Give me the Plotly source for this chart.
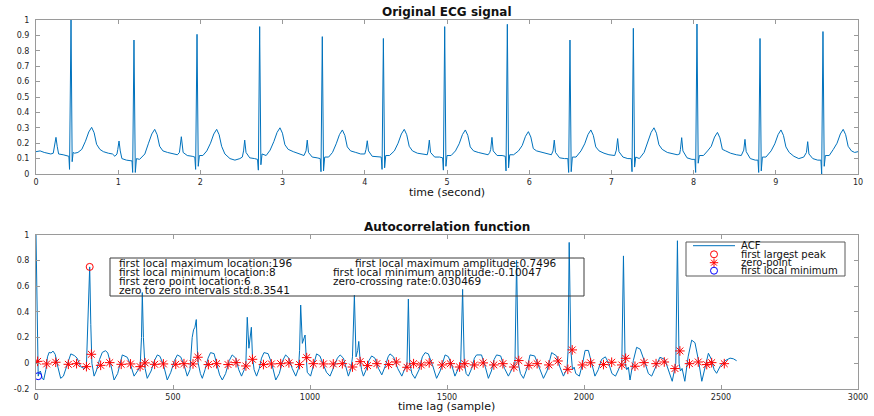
import plotly.graph_objects as go

W, H = 874, 416

# ---------------- data: original ECG (time in s, amplitude), one row per beat ----------------
ecg_t = [
    0.00, 0.05, 0.10, 0.15, 0.18,
    0.21, 0.228, 0.243, 0.258, 0.275, 0.33, 0.38, 0.400, 0.408, 0.426, 0.440, 0.452, 0.47, 0.51, 0.557, 0.602, 0.642, 0.677, 0.707, 0.737, 0.777, 0.82, 0.88, 0.93, 0.96, 0.985,
    0.995, 1.01, 1.025, 1.045, 1.10, 1.15, 1.168, 1.176, 1.192, 1.208, 1.222, 1.26, 1.29, 1.324, 1.369, 1.409, 1.444, 1.474, 1.504, 1.544, 1.60, 1.66, 1.72,
    1.745, 1.768, 1.79, 1.84, 1.90, 1.932, 1.942, 1.959, 1.974, 1.988, 2.03, 2.078, 2.123, 2.163, 2.198, 2.228, 2.258, 2.298, 2.36, 2.42, 2.48, 2.51,
    2.525, 2.539, 2.555, 2.60, 2.66, 2.695, 2.705, 2.721, 2.736, 2.75, 2.80, 2.848, 2.893, 2.933, 2.968, 2.998, 3.028, 3.068, 3.13, 3.20, 3.26,
    3.285, 3.30, 3.315, 3.36, 3.42, 3.458, 3.467, 3.483, 3.498, 3.512, 3.56, 3.607, 3.652, 3.692, 3.727, 3.757, 3.787, 3.827, 3.89, 3.95, 4.00,
    4.015, 4.03, 4.045, 4.09, 4.15, 4.20, 4.21, 4.226, 4.241, 4.255, 4.30, 4.36, 4.405, 4.445, 4.48, 4.51, 4.54, 4.58, 4.64, 4.70, 4.76,
    4.77, 4.785, 4.80, 4.85, 4.91, 4.947, 4.956, 4.972, 4.987, 5.00, 5.05, 5.103, 5.148, 5.188, 5.223, 5.253, 5.283, 5.323, 5.38, 5.44, 5.50, 5.52,
    5.532, 5.547, 5.562, 5.61, 5.67, 5.709, 5.718, 5.734, 5.749, 5.763, 5.81, 5.87, 5.915, 5.955, 5.99, 6.02, 6.05, 6.09, 6.15, 6.21, 6.27,
    6.29, 6.305, 6.32, 6.37, 6.43, 6.47, 6.48, 6.496, 6.511, 6.525, 6.57, 6.63, 6.675, 6.715, 6.75, 6.78, 6.81, 6.85, 6.91, 6.97, 7.04,
    7.06, 7.076, 7.092, 7.14, 7.20, 7.242, 7.251, 7.267, 7.282, 7.296, 7.34, 7.398, 7.443, 7.483, 7.518, 7.548, 7.578, 7.618, 7.68, 7.74, 7.80, 7.83,
    7.84, 7.855, 7.87, 7.92, 7.98, 8.016, 8.025, 8.041, 8.056, 8.07, 8.12, 8.17, 8.215, 8.255, 8.29, 8.32, 8.35, 8.39, 8.45, 8.52, 8.58,
    8.61, 8.625, 8.64, 8.69, 8.75, 8.783, 8.792, 8.808, 8.823, 8.837, 8.88, 8.943, 8.988, 9.028, 9.063, 9.093, 9.123, 9.163, 9.22, 9.28, 9.34,
    9.373, 9.388, 9.403, 9.45, 9.51, 9.549, 9.558, 9.574, 9.589, 9.603, 9.65, 9.70, 9.745, 9.785, 9.82, 9.85, 9.88, 9.92, 9.96, 10.0,
]
ecg_v = [
    0.145, 0.15, 0.14, 0.135, 0.13,
    0.135, 0.18, 0.238, 0.18, 0.13, 0.125, 0.12, 0.115, 0.03, 1.0, 0.08, 0.14, 0.135, 0.14, 0.16, 0.213, 0.273, 0.303, 0.268, 0.193, 0.16, 0.145, 0.135, 0.13, 0.115, 0.13,
    0.16, 0.214, 0.15, 0.10, 0.09, 0.088, 0.085, 0.01, 0.87, 0.01, 0.10, 0.095, 0.11, 0.13, 0.20, 0.26, 0.29, 0.255, 0.18, 0.15, 0.14, 0.13, 0.125,
    0.14, 0.242, 0.14, 0.12, 0.115, 0.11, 0.03, 0.907, 0.05, 0.12, 0.12, 0.15, 0.20, 0.26, 0.29, 0.255, 0.18, 0.13, 0.10, 0.09, 0.10, 0.11,
    0.15, 0.22, 0.14, 0.105, 0.10, 0.095, 0.025, 0.957, 0.06, 0.13, 0.12, 0.155, 0.21, 0.27, 0.30, 0.265, 0.19, 0.16, 0.145, 0.13, 0.12,
    0.15, 0.22, 0.14, 0.11, 0.105, 0.10, 0.015, 0.892, 0.02, 0.11, 0.11, 0.14, 0.196, 0.256, 0.286, 0.251, 0.176, 0.15, 0.14, 0.13, 0.13,
    0.16, 0.216, 0.15, 0.115, 0.113, 0.11, 0.03, 0.88, 0.04, 0.12, 0.12, 0.15, 0.20, 0.26, 0.29, 0.255, 0.18, 0.15, 0.135, 0.13, 0.125,
    0.15, 0.22, 0.14, 0.11, 0.11, 0.105, 0.025, 0.957, 0.05, 0.12, 0.12, 0.15, 0.196, 0.256, 0.286, 0.251, 0.176, 0.15, 0.14, 0.13, 0.125, 0.14,
    0.16, 0.238, 0.15, 0.12, 0.12, 0.115, 0.02, 0.972, 0.04, 0.125, 0.125, 0.15, 0.185, 0.245, 0.275, 0.24, 0.165, 0.15, 0.14, 0.13, 0.125,
    0.15, 0.22, 0.14, 0.105, 0.10, 0.10, 0.01, 0.87, 0.015, 0.11, 0.11, 0.15, 0.196, 0.256, 0.286, 0.251, 0.176, 0.15, 0.135, 0.125, 0.12,
    0.155, 0.23, 0.145, 0.11, 0.10, 0.10, 0.015, 0.946, 0.045, 0.11, 0.10, 0.14, 0.21, 0.27, 0.30, 0.265, 0.19, 0.16, 0.14, 0.13, 0.125, 0.13,
    0.16, 0.236, 0.15, 0.105, 0.095, 0.095, 0.01, 0.974, 0.07, 0.12, 0.12, 0.15, 0.18, 0.24, 0.27, 0.235, 0.16, 0.15, 0.135, 0.125, 0.12,
    0.155, 0.225, 0.145, 0.10, 0.09, 0.09, 0.01, 0.88, 0.02, 0.11, 0.11, 0.15, 0.196, 0.256, 0.286, 0.251, 0.176, 0.14, 0.115, 0.10, 0.11,
    0.14, 0.21, 0.13, 0.10, 0.09, 0.09, 0.0, 0.925, 0.05, 0.12, 0.12, 0.16, 0.20, 0.26, 0.29, 0.255, 0.18, 0.15, 0.14, 0.145,
]
assert len(ecg_t) == len(ecg_v)

# ---------------- data: autocorrelation function (lag in samples) ----------------
acf_lag = [
    0, 3, 6, 8, 12, 16, 22, 28, 36, 42, 48, 55, 62, 70, 80, 90, 100, 115, 127, 140, 150, 163, 175, 184, 190, 196, 200, 204, 212, 220,
    232, 242, 254, 262, 272, 285, 298, 308, 315, 333, 345, 358, 372, 380, 385, 388, 392, 398, 406, 420, 432, 443, 452, 465, 479, 492,
    505, 516, 528, 540, 552, 562, 570, 575, 580, 585, 589, 592, 600, 607, 617, 628, 637, 650, 659, 670, 680, 692, 705, 716, 729, 740,
    750, 760, 766, 771, 777, 782, 786, 790, 796, 805, 815, 823, 832, 847, 860, 875, 888, 900, 911, 923, 935, 948, 958, 962, 966, 972,
    978, 982, 986, 990, 1002, 1012, 1024, 1036, 1048, 1060, 1073, 1088, 1100, 1110, 1122, 1130, 1140, 1150, 1155, 1162, 1168, 1174,
    1178, 1182, 1188, 1195, 1205, 1215, 1225, 1237, 1250, 1262, 1275, 1285, 1292, 1305, 1320, 1335, 1348, 1354, 1359, 1364, 1372,
    1383, 1398, 1410, 1420, 1432, 1448, 1462, 1475, 1486, 1493, 1505, 1518, 1529, 1540, 1550, 1557, 1563, 1570, 1578, 1590, 1600,
    1608, 1626, 1640, 1651, 1662, 1672, 1681, 1696, 1710, 1724, 1736, 1748, 1754, 1760, 1768, 1779, 1792, 1803, 1820, 1835, 1852,
    1865, 1875, 1882, 1900, 1912, 1925, 1938, 1942, 1946, 1952, 1958, 1964, 1970, 1983, 1995, 2004, 2016, 2028, 2040, 2052, 2064,
    2078, 2090, 2102, 2115, 2128, 2138, 2144, 2150, 2156, 2162, 2168, 2180, 2192, 2205, 2220, 2235, 2247, 2262, 2277, 2295, 2308,
    2322, 2335, 2341, 2347, 2352, 2358, 2368, 2380, 2393, 2405, 2418, 2430, 2442, 2454, 2465, 2475, 2484, 2498, 2515, 2533, 2545, 2557,
]
acf_val = [
    1.0, 0.5, 0.0, -0.10, -0.07, -0.06, -0.11, -0.13, -0.05, 0.05, 0.085, 0.08, 0.095, 0.07, -0.03, -0.117, -0.10, 0.0, 0.073, 0.06, 0.04, -0.026, -0.04, -0.02, 0.30, 0.7496, 0.30, 0.0, -0.10, -0.06,
    0.03, 0.085, 0.098, 0.08, 0.0, -0.13, -0.08, 0.02, 0.065, 0.047, -0.01, -0.10, -0.06, -0.03, 0.20, 0.55, 0.20, -0.04, -0.117, -0.06, 0.02, 0.065, 0.055, -0.01, -0.13, -0.07,
    0.02, 0.065, 0.05, -0.01, -0.10, -0.05, 0.20, 0.26, 0.28, 0.34, 0.10, 0.0, -0.08, -0.117, -0.05, 0.04, 0.083, 0.075, 0.0, -0.09, -0.13, -0.08, 0.02, 0.065, 0.04, -0.05,
    -0.10, -0.05, 0.0, 0.358, 0.117, 0.20, 0.28, 0.05, -0.05, -0.10, -0.04, 0.04, 0.083, 0.075, 0.0, -0.13, -0.08, 0.02, 0.065, 0.04, -0.04, -0.10, -0.04, 0.10, 0.453, 0.155,
    0.20, 0.22, 0.05, -0.07, -0.10, -0.03, 0.073, 0.057, 0.0, -0.07, -0.10, -0.03, 0.04, 0.065, 0.04, -0.02, -0.10, -0.04, 0.05, 0.53, 0.05, 0.10,
    0.17, 0.05, -0.05, -0.10, -0.05, 0.02, 0.057, 0.04, -0.04, -0.09, -0.02, 0.05, 0.073, 0.05, -0.04, -0.10, -0.04, 0.0, 0.50, 0.0, -0.08,
    -0.117, -0.05, 0.05, 0.083, 0.073, -0.02, -0.117, -0.06, 0.03, 0.065, 0.052, -0.02, -0.10, -0.04, 0.0, 0.575, 0.0, -0.08, -0.10, -0.04, 0.04,
    0.065, 0.065, -0.03, -0.117, -0.06, 0.03, 0.065, 0.057, -0.04, -0.10, -0.05, 0.0, 0.80, 0.0, -0.08, -0.117, -0.04, 0.065, 0.057, -0.03, -0.117,
    -0.06, 0.04, 0.083, 0.057, -0.03, -0.10, -0.04, 0.10, 0.94, 0.10, -0.05, -0.03, -0.08, -0.10, 0.0, 0.10, 0.10, 0.0, -0.10, -0.05, 0.03,
    0.05, 0.0, -0.08, -0.10, -0.04, 0.0, 0.835, 0.0, -0.05, -0.03, -0.13, 0.02, 0.124, 0.11, 0.02, -0.08, -0.10, -0.02, 0.047, 0.03, -0.06,
    -0.14, 0.0, 0.953, 0.0, -0.06, -0.04, -0.14, 0.05, 0.18, 0.16, 0.02, -0.14, -0.03, 0.078, 0.03, -0.05, -0.078, -0.02, 0.02, 0.04, 0.035, 0.02,
]
assert len(acf_lag) == len(acf_val)

# zero-point markers
zero_lag = [6, 39, 72, 118, 148, 184, 202, 236, 269, 311, 345, 380, 398, 433, 465, 510, 540, 573, 591, 629, 659, 701, 730, 766, 790,
            830, 859, 893, 923, 962, 988, 1012, 1049, 1085, 1118, 1155, 1183, 1210, 1244, 1287, 1315, 1354, 1378, 1406, 1435, 1482,
            1512, 1546, 1565, 1600, 1632, 1671, 1704, 1744, 1762, 1799, 1829, 1872, 1905, 1941, 1957, 1994, 2024, 2071, 2101, 2138,
            2152, 2186, 2219, 2263, 2293, 2332, 2350, 2385, 2417, 2448, 2466, 2512]
zero_val = [0.015, -0.005, 0.008, -0.008, -0.003, -0.026, 0.07, -0.016, 0.005, -0.008, -0.005, -0.026, 0.003, -0.008, -0.005, -0.008,
            -0.003, -0.005, 0.047, -0.01, -0.003, -0.01, 0.005, -0.021, 0.031, -0.01, -0.005, -0.003, 0.003, -0.01, 0.044, -0.003,
            -0.005, -0.005, -0.003, -0.029, 0.013, -0.018, -0.003, -0.01, 0.01, -0.031, -0.003, -0.013, 0.003, -0.013, -0.003, -0.029,
            -0.003, -0.013, 0.003, -0.013, -0.003, -0.029, 0.021, -0.016, -0.003, -0.013, 0.018, -0.047, 0.104, -0.013, 0.004, -0.01,
            0.008, -0.013, 0.039, -0.023, 0.005, -0.003, 0.01, -0.041, 0.096, -0.003, 0.01, -0.01, 0.005, -0.003]

peak_lag, peak_val = [196], [0.7496]
min_lag, min_val = [8], [-0.10047]

xt_top = list(range(0, 11))
yt_top = [0, 0.1, 0.2, 0.3, 0.4, 0.5, 0.6, 0.7, 0.8, 0.9, 1]
yt_top_lbl = ["0", "0.1", "0.2", "0.3", "0.4", "0.5", "0.6", "0.7", "0.8", "0.9", "1"]
xt_bot = [0, 500, 1000, 1500, 2000, 2500, 3000]
yt_bot = [-0.2, 0, 0.2, 0.4, 0.6, 0.8, 1]
yt_bot_lbl = ["-0.2", "0", "0.2", "0.4", "0.6", "0.8", "1"]

info_left = ["first local maximum location:196", "first local minimum location:8",
             "first zero point location:6", "zero to zero intervals std:8.3541"]
info_right = ["first local maximum amplitude:0.7496", "first local minimum amplitude:-0.10047",
              "zero-crossing rate:0.030469"]
legend_labels = ["ACF", "first largest peak", "zero-point", "first local minimum"]

# ---------------- styling / layout ----------------
BLUE = "#0072BD"
FONT = "DejaVu Sans"
AX = "#9a9a9a"
TXT = "#262626"
CLEAR = "rgba(0,0,0,0)"


def px(x):
    return x / W


def py(y):
    return 1 - y / H


fig = go.Figure()
fig.add_trace(go.Scatter(x=ecg_t, y=ecg_v, mode="lines", line=dict(color=BLUE, width=1),
                         xaxis="x", yaxis="y", showlegend=False, hoverinfo="skip"))
fig.add_trace(go.Scatter(x=acf_lag, y=acf_val, mode="lines", line=dict(color=BLUE, width=1),
                         xaxis="x2", yaxis="y2", showlegend=False, hoverinfo="skip"))
fig.add_trace(go.Scatter(x=peak_lag, y=peak_val, mode="markers",
                         marker=dict(symbol="circle-open", size=7, color="#FF0000", line=dict(width=1)),
                         xaxis="x2", yaxis="y2", showlegend=False))
fig.add_trace(go.Scatter(x=zero_lag, y=zero_val, mode="markers",
                         marker=dict(symbol="asterisk-open", size=8, color="#FF0000", line=dict(width=1, color="#FF0000")),
                         xaxis="x2", yaxis="y2", showlegend=False))
fig.add_trace(go.Scatter(x=min_lag, y=min_val, mode="markers",
                         marker=dict(symbol="circle-open", size=7, color="#0000FF", line=dict(width=1)),
                         xaxis="x2", yaxis="y2", showlegend=False))

# legend symbols drawn on a pixel-space overlay axis (transparent background)
leg_x = [714, 714, 714]
leg_y = [254.3, 262.7, 270.7]
fig.add_trace(go.Scatter(x=leg_x[:1], y=leg_y[:1], mode="markers", xaxis="x3", yaxis="y3",
                         marker=dict(symbol="circle-open", size=7, color="#FF0000", line=dict(width=1)), showlegend=False))
fig.add_trace(go.Scatter(x=leg_x[1:2], y=leg_y[1:2], mode="markers", xaxis="x3", yaxis="y3",
                         marker=dict(symbol="asterisk-open", size=7, color="#FF0000", line=dict(width=1, color="#FF0000")), showlegend=False))
fig.add_trace(go.Scatter(x=leg_x[2:], y=leg_y[2:], mode="markers", xaxis="x3", yaxis="y3",
                         marker=dict(symbol="circle-open", size=7, color="#0000FF", line=dict(width=1)), showlegend=False))

xdom = [px(36), px(858)]
common = dict(showgrid=False, zeroline=False, showline=True, linecolor=AX, linewidth=1, mirror="ticks",
              ticks="inside", ticklen=4, tickcolor=AX, tickwidth=1,
              tickfont=dict(family=FONT, size=8, color=TXT), automargin=False)

fig.update_layout(
    width=W, height=H, margin=dict(l=0, r=0, t=0, b=0),
    paper_bgcolor="white", plot_bgcolor=CLEAR,
    xaxis=dict(domain=xdom, anchor="y", range=[0, 10], tickvals=xt_top, **common),
    yaxis=dict(domain=[py(174), py(20)], anchor="x", range=[0, 1], tickvals=yt_top, ticktext=yt_top_lbl,
               ticklabelstandoff=4, **common),
    xaxis2=dict(domain=xdom, anchor="y2", range=[0, 3000], tickvals=xt_bot, **common),
    yaxis2=dict(domain=[py(389), py(234.7)], anchor="x2", range=[-0.2, 1], tickvals=yt_bot, ticktext=yt_bot_lbl,
                ticklabelstandoff=4, **common),
    xaxis3=dict(domain=[0, 1], anchor="y3", range=[0, W], visible=False, fixedrange=True),
    yaxis3=dict(domain=[0, 1], anchor="x3", range=[H, 0], visible=False, fixedrange=True),
    showlegend=False,
)

shapes = []
# info box
shapes.append(dict(type="rect", xref="paper", yref="paper", x0=px(110), x1=px(584), y0=py(258), y1=py(296),
                   line=dict(color="#3c3c3c", width=1), fillcolor=CLEAR))
# legend box
shapes.append(dict(type="rect", xref="paper", yref="paper", x0=px(686), x1=px(845), y0=py(242), y1=py(276),
                   line=dict(color="#5a5a5a", width=1), fillcolor=CLEAR))
shapes.append(dict(type="line", xref="paper", yref="paper", x0=px(693), x1=px(735), y0=py(245.7), y1=py(245.7),
                   line=dict(color=BLUE, width=1)))
fig.update_layout(shapes=shapes)

ann = []
ann.append(dict(text="<b>Original ECG signal</b>", x=px(447), y=py(12.3), size=12))
ann.append(dict(text="<b>Autocorrelation function</b>", x=px(447), y=py(226.7), size=12))
ann.append(dict(text="time (second)", x=px(447), y=py(192), size=11))
ann.append(dict(text="time lag (sample)", x=px(447), y=py(406.5), size=11))
for a in ann:
    s = a.pop("size")
    a.update(xref="paper", yref="paper", showarrow=False, xanchor="center", yanchor="middle",
             font=dict(family=FONT, size=s, color="#111"))

left_y = [263.3, 272.3, 281, 290]
for txt, yy in zip(info_left, left_y):
    ann.append(dict(text=txt, x=px(117), y=py(yy), xref="paper", yref="paper", showarrow=False,
                    xanchor="left", yanchor="middle", font=dict(family=FONT, size=10.5, color="#111")))
right_x = [352.7, 330.7, 330.7]
for txt, xx, yy in zip(info_right, right_x, left_y[:3]):
    ann.append(dict(text=txt, x=px(xx), y=py(yy), xref="paper", yref="paper", showarrow=False,
                    xanchor="left", yanchor="middle", font=dict(family=FONT, size=10.5, color="#111")))
leg_text_y = [245.7, 254.3, 262.7, 270.7]
for txt, yy in zip(legend_labels, leg_text_y):
    ann.append(dict(text=txt, x=px(739), y=py(yy), xref="paper", yref="paper", showarrow=False,
                    xanchor="left", yanchor="middle", font=dict(family=FONT, size=10, color="#111")))
fig.update_layout(annotations=ann)

fig.write_html("out.html")
